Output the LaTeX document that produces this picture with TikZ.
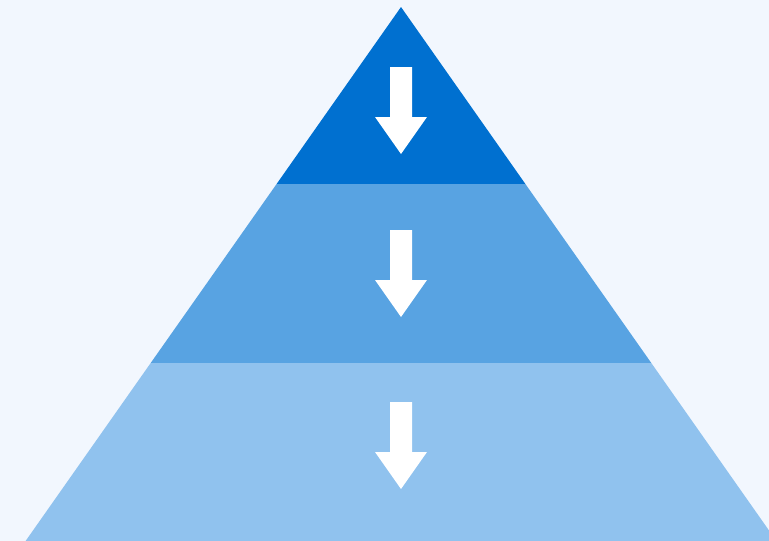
\documentclass[tikz,border=0pt]{standalone}
\definecolor{pagebg}{RGB}{242,247,254}
\definecolor{tiertop}{RGB}{0,112,208}
\definecolor{tiermid}{RGB}{88,163,226}
\definecolor{tierlow}{RGB}{144,194,238}
\tikzset{
    tier/.style={draw=none},
    downarrow/.pic={
        \fill[white] (-11,0) -- (11,0) -- (11,50) -- (26,50) -- (0,87) -- (-26,50) -- (-11,50) -- cycle;
    }
}
\begin{document}
\begin{tikzpicture}[x=1pt,y=-1pt]
        \useasboundingbox (0,0) rectangle (769,541);
        \fill[pagebg] (0,0) rectangle (769,541);
        \clip (0,0) rectangle (769,541);
        % pyramid corners
        \coordinate (apex) at (401,7);
        \coordinate (l1) at (276.6,184);
        \coordinate (r1) at (525.4,184);
        \coordinate (l2) at (150.7,363);
        \coordinate (r2) at (651.3,363);
        \coordinate (l3) at (25.6,541);
        \coordinate (r3) at (776.4,541);
        % tiers
        \fill[tier,tiertop] (apex) -- (r1) -- (l1) -- cycle;
        \fill[tier,tiermid] (l1) -- (r1) -- (r2) -- (l2) -- cycle;
        \fill[tier,tierlow] (l2) -- (r2) -- (r3) -- (l3) -- cycle;
        % arrows
        \pic at (401,67) {downarrow};
        \pic at (401,230) {downarrow};
        \pic at (401,402) {downarrow};
    \end{tikzpicture}
\end{document}
